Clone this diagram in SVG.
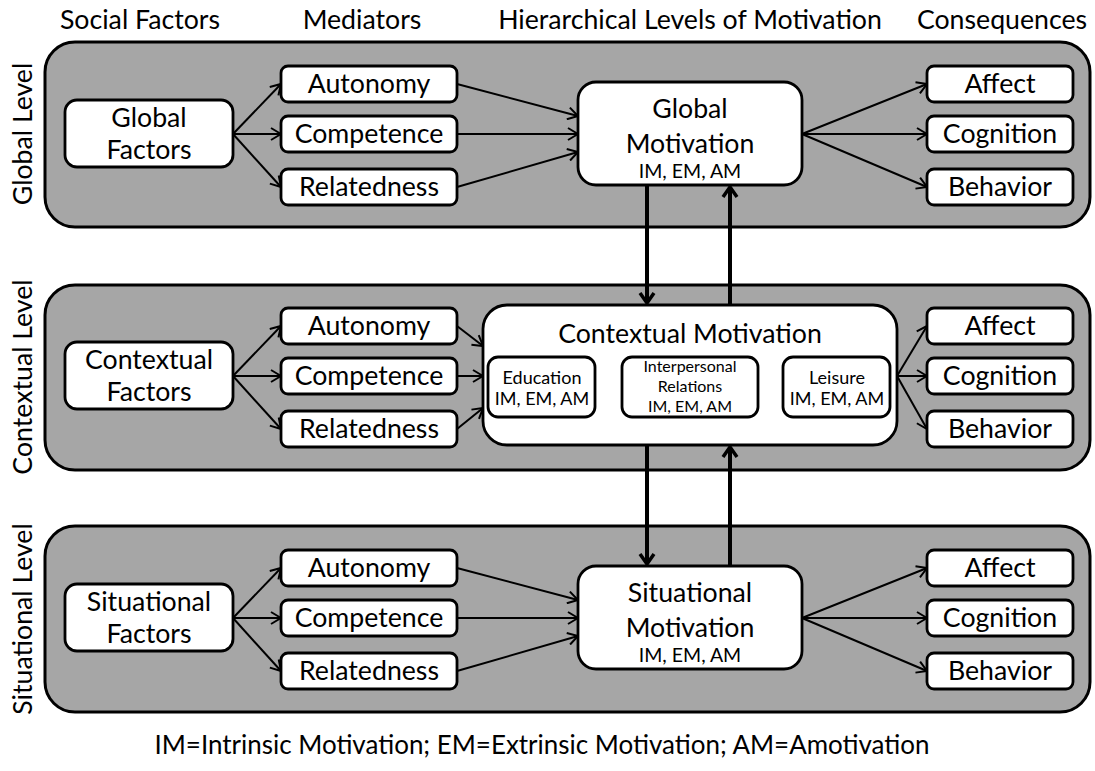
<svg xmlns="http://www.w3.org/2000/svg" width="1095" height="771" viewBox="0 0 1095 771">
  <style>
    .panel { fill: #a6a6a6; stroke: #000; stroke-width: 3; }
    .box { fill: #fff; stroke: #000; stroke-width: 2.8; }
    .t { font-family: Lato, "Liberation Sans", sans-serif; font-size: 26.7px; text-anchor: middle; fill: #000; }
    .m { font-size: 19.5px; }
    .s { font-size: 18px; }
    .xs { font-size: 16px; }
    .conn { stroke: #000; stroke-width: 2; fill: none; marker-end: url(#head); }
    .thick { stroke: #000; stroke-width: 4; fill: none; marker-end: url(#headBig); }
    .dbl { stroke: #000; stroke-width: 2; fill: none; marker-start: url(#headSmall); marker-end: url(#headSmall); }
  </style>
  <defs>
    <marker id="head" markerUnits="userSpaceOnUse" viewBox="0 0 12 14" refX="11" refY="7" markerWidth="12" markerHeight="14" orient="auto">
      <path d="M1,1 L11,7 L1,13" fill="none" stroke="#000" stroke-width="2"/>
    </marker>
    <marker id="headSmall" markerUnits="userSpaceOnUse" viewBox="0 0 10 12" refX="9" refY="6" markerWidth="10" markerHeight="12" orient="auto-start-reverse">
      <path d="M1,1 L9,6 L1,11" fill="none" stroke="#000" stroke-width="2"/>
    </marker>
    <marker id="headBig" markerUnits="userSpaceOnUse" viewBox="0 0 14 18" refX="12" refY="9" markerWidth="14" markerHeight="18" orient="auto">
      <path d="M2,2 L12,9 L2,16" fill="none" stroke="#000" stroke-width="3.5"/>
    </marker>
  </defs>

  <!-- column headings -->
  <g id="headings" class="t">
    <text x="140" y="29">Social Factors</text>
    <text x="362" y="29">Mediators</text>
    <text x="690" y="29">Hierarchical Levels of Motivation</text>
    <text x="1002" y="29">Consequences</text>
  </g>

  <!-- level panels -->
  <g id="panels">
    <rect class="panel" x="45" y="42" width="1045" height="185" rx="30"/>
    <rect class="panel" x="45" y="285" width="1045" height="185" rx="30"/>
    <rect class="panel" x="45" y="526" width="1045" height="186" rx="30"/>
  </g>

  <!-- level labels -->
  <g id="level-labels" class="t">
    <text transform="translate(32,134) rotate(-90)">Global Level</text>
    <text transform="translate(32,377) rotate(-90)">Contextual Level</text>
    <text transform="translate(32,619) rotate(-90)">Situational Level</text>
  </g>

  <!-- connectors -->
  <g id="connectors">
    <!-- global level -->
    <line class="conn" x1="233" y1="134" x2="281" y2="84"/>
    <line class="conn" x1="233" y1="134" x2="281" y2="134"/>
    <line class="conn" x1="233" y1="134" x2="281" y2="187"/>
    <line class="conn" x1="457" y1="84" x2="578" y2="116"/>
    <line class="conn" x1="457" y1="134" x2="578" y2="134"/>
    <line class="conn" x1="457" y1="187" x2="578" y2="152"/>
    <line class="conn" x1="802" y1="134" x2="927" y2="84"/>
    <line class="conn" x1="802" y1="134" x2="927" y2="134"/>
    <line class="conn" x1="802" y1="134" x2="927" y2="187"/>
    <!-- contextual level -->
    <line class="conn" x1="233" y1="376" x2="281" y2="326"/>
    <line class="conn" x1="233" y1="376" x2="281" y2="376"/>
    <line class="conn" x1="233" y1="376" x2="281" y2="429"/>
    <line class="conn" x1="457" y1="326" x2="483" y2="346"/>
    <line class="conn" x1="457" y1="376" x2="483" y2="376"/>
    <line class="conn" x1="457" y1="429" x2="483" y2="408"/>
    <line class="conn" x1="897" y1="376" x2="927" y2="326"/>
    <line class="conn" x1="897" y1="376" x2="927" y2="376"/>
    <line class="conn" x1="897" y1="376" x2="927" y2="429"/>
    <!-- situational level -->
    <line class="conn" x1="233" y1="618" x2="281" y2="568"/>
    <line class="conn" x1="233" y1="618" x2="281" y2="618"/>
    <line class="conn" x1="233" y1="618" x2="281" y2="671"/>
    <line class="conn" x1="457" y1="568" x2="578" y2="600"/>
    <line class="conn" x1="457" y1="618" x2="578" y2="618"/>
    <line class="conn" x1="457" y1="671" x2="578" y2="636"/>
    <line class="conn" x1="802" y1="618" x2="927" y2="568"/>
    <line class="conn" x1="802" y1="618" x2="927" y2="618"/>
    <line class="conn" x1="802" y1="618" x2="927" y2="671"/>
    <!-- between levels -->
    <line class="thick" x1="647" y1="185" x2="647" y2="303"/>
    <line class="thick" x1="730" y1="305" x2="730" y2="187"/>
    <line class="thick" x1="647" y1="445" x2="647" y2="564"/>
    <line class="thick" x1="730" y1="566" x2="730" y2="447"/>
    <!-- inside contextual motivation -->
    <line class="dbl" x1="597" y1="386" x2="620" y2="386"/>
    <line class="dbl" x1="760" y1="386" x2="781" y2="386"/>
    <path class="dbl" d="M542,419 V433 H838 V419"/>
  </g>

  <!-- global level nodes -->
  <g id="global-factors">
    <rect class="box" x="65" y="100" width="168" height="67" rx="12"/>
    <text class="t" x="149" y="127">Global</text>
    <text class="t" x="149" y="159">Factors</text>
  </g>
  <g id="global-autonomy">
    <rect class="box" x="281" y="66" width="176" height="36" rx="7"/>
    <text class="t" x="369" y="93">Autonomy</text>
  </g>
  <g id="global-competence">
    <rect class="box" x="281" y="116" width="176" height="36" rx="7"/>
    <text class="t" x="369" y="143">Competence</text>
  </g>
  <g id="global-relatedness">
    <rect class="box" x="281" y="169" width="176" height="36" rx="7"/>
    <text class="t" x="369" y="196">Relatedness</text>
  </g>
  <g id="global-motivation">
    <rect class="box" x="578" y="82" width="224" height="103" rx="18"/>
    <text class="t" x="690" y="118">Global</text>
    <text class="t" x="690" y="153">Motivation</text>
    <text class="t m" x="690" y="178">IM, EM, AM</text>
  </g>
  <g id="global-affect">
    <rect class="box" x="927" y="66" width="146" height="36" rx="7"/>
    <text class="t" x="1000" y="93">Affect</text>
  </g>
  <g id="global-cognition">
    <rect class="box" x="927" y="116" width="146" height="36" rx="7"/>
    <text class="t" x="1000" y="143">Cognition</text>
  </g>
  <g id="global-behavior">
    <rect class="box" x="927" y="169" width="146" height="36" rx="7"/>
    <text class="t" x="1000" y="196">Behavior</text>
  </g>

  <!-- contextual level nodes -->
  <g id="contextual-factors">
    <rect class="box" x="65" y="342" width="168" height="67" rx="12"/>
    <text class="t" x="149" y="369">Contextual</text>
    <text class="t" x="149" y="401">Factors</text>
  </g>
  <g id="contextual-autonomy">
    <rect class="box" x="281" y="308" width="176" height="36" rx="7"/>
    <text class="t" x="369" y="335">Autonomy</text>
  </g>
  <g id="contextual-competence">
    <rect class="box" x="281" y="358" width="176" height="36" rx="7"/>
    <text class="t" x="369" y="385">Competence</text>
  </g>
  <g id="contextual-relatedness">
    <rect class="box" x="281" y="411" width="176" height="36" rx="7"/>
    <text class="t" x="369" y="438">Relatedness</text>
  </g>
  <g id="contextual-motivation">
    <rect class="box" x="483" y="305" width="414" height="140" rx="24"/>
    <text class="t" x="690" y="343">Contextual Motivation</text>
  </g>
  <g id="education">
    <rect class="box" x="488" y="357" width="107" height="60" rx="10"/>
    <text class="t s" x="542" y="384">Education</text>
    <text class="t s" x="542" y="405">IM, EM, AM</text>
  </g>
  <g id="interpersonal-relations">
    <rect class="box" x="622" y="357" width="136" height="60" rx="10"/>
    <text class="t xs" x="690" y="372">Interpersonal</text>
    <text class="t xs" x="690" y="392">Relations</text>
    <text class="t xs" x="690" y="412">IM, EM, AM</text>
  </g>
  <g id="leisure">
    <rect class="box" x="783" y="357" width="107" height="60" rx="10"/>
    <text class="t s" x="837" y="384">Leisure</text>
    <text class="t s" x="837" y="405">IM, EM, AM</text>
  </g>
  <g id="contextual-affect">
    <rect class="box" x="927" y="308" width="146" height="36" rx="7"/>
    <text class="t" x="1000" y="335">Affect</text>
  </g>
  <g id="contextual-cognition">
    <rect class="box" x="927" y="358" width="146" height="36" rx="7"/>
    <text class="t" x="1000" y="385">Cognition</text>
  </g>
  <g id="contextual-behavior">
    <rect class="box" x="927" y="411" width="146" height="36" rx="7"/>
    <text class="t" x="1000" y="438">Behavior</text>
  </g>

  <!-- situational level nodes -->
  <g id="situational-factors">
    <rect class="box" x="65" y="584" width="168" height="67" rx="12"/>
    <text class="t" x="149" y="611">Situational</text>
    <text class="t" x="149" y="643">Factors</text>
  </g>
  <g id="situational-autonomy">
    <rect class="box" x="281" y="550" width="176" height="36" rx="7"/>
    <text class="t" x="369" y="577">Autonomy</text>
  </g>
  <g id="situational-competence">
    <rect class="box" x="281" y="600" width="176" height="36" rx="7"/>
    <text class="t" x="369" y="627">Competence</text>
  </g>
  <g id="situational-relatedness">
    <rect class="box" x="281" y="653" width="176" height="36" rx="7"/>
    <text class="t" x="369" y="680">Relatedness</text>
  </g>
  <g id="situational-motivation">
    <rect class="box" x="578" y="566" width="224" height="103" rx="18"/>
    <text class="t" x="690" y="602">Situational</text>
    <text class="t" x="690" y="637">Motivation</text>
    <text class="t m" x="690" y="662">IM, EM, AM</text>
  </g>
  <g id="situational-affect">
    <rect class="box" x="927" y="550" width="146" height="36" rx="7"/>
    <text class="t" x="1000" y="577">Affect</text>
  </g>
  <g id="situational-cognition">
    <rect class="box" x="927" y="600" width="146" height="36" rx="7"/>
    <text class="t" x="1000" y="627">Cognition</text>
  </g>
  <g id="situational-behavior">
    <rect class="box" x="927" y="653" width="146" height="36" rx="7"/>
    <text class="t" x="1000" y="680">Behavior</text>
  </g>

  <!-- abbreviation key -->
  <text id="key" class="t" x="542" y="754" textLength="775" lengthAdjust="spacingAndGlyphs">IM=Intrinsic Motivation; EM=Extrinsic Motivation; AM=Amotivation</text>
</svg>
